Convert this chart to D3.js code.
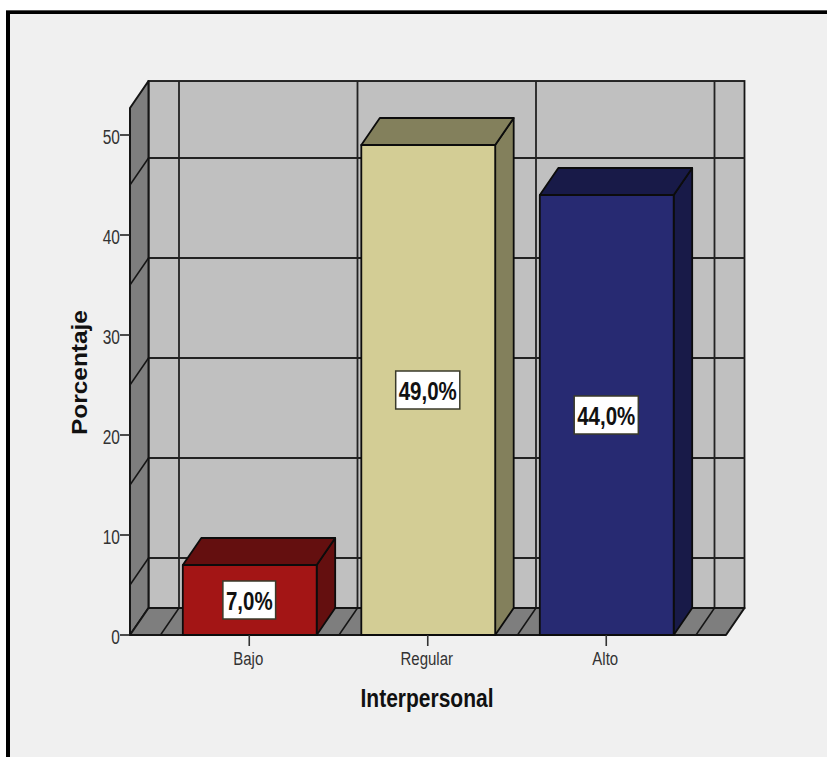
<!DOCTYPE html>
<html>
<head>
<meta charset="utf-8">
<script src="https://cdn.jsdelivr.net/npm/d3@7/dist/d3.min.js"></script>
<style>
  html, body { margin: 0; padding: 0; background: #ffffff; }
  svg { display: block; }
  text { font-family: "Liberation Sans", Arial, sans-serif; }
</style>
</head>
<body>
<svg id="chart" width="827" height="757"></svg>
<script>
// Chart values
const categories = ["Bajo", "Regular", "Alto"];
const percentages = [7.0, 49.0, 44.0];
const yTickValues = [0, 10, 20, 30, 40, 50];
const wallGridValues = [5, 15, 25, 35, 45];
const frontColors = ["#a31515", "#d3cd95", "#272a72"];
const topColors = ["#640f0f", "#83805c", "#181a48"];
const yTitle = "Porcentaje";
const xTitle = "Interpersonal";

const svg = d3.select("#chart");
const INK = "#151515";

// Extruded frame: front plane plus a constant shift to the back plane
const depthX = 18.5, depthY = 27;
const plotLeft = 130, plotRight = 726, plotBottom = 635, plotTop = 108;

const y = d3.scaleLinear().domain([0, 52.7]).range([plotBottom, plotTop]);
const x = d3.scaleBand().domain(categories)
  .range([160.5, 696]).paddingInner(0.25).paddingOuter(0.125);

const poly = pts => pts.map(p => p.join(",")).join(" ");

// Panel with its heavy top and left rules
svg.append("rect").attr("x", 8).attr("y", 12).attr("width", 830).attr("height", 760)
  .attr("fill", "#f0f0f0").attr("stroke", "#000").attr("stroke-width", 4);
svg.append("rect").attr("x", 6).attr("y", 10).attr("width", 821).attr("height", 1).attr("fill", "#555");

const plot = svg.append("g");

// Back wall
plot.append("rect")
  .attr("x", plotLeft + depthX).attr("y", plotTop - depthY)
  .attr("width", plotRight - plotLeft).attr("height", plotBottom - plotTop)
  .attr("fill", "#c0c0c0").attr("stroke", INK).attr("stroke-width", 1.8);

// Horizontal grid on the back wall
plot.selectAll("line.grid-h").data(wallGridValues).join("line")
  .attr("class", "grid-h")
  .attr("x1", plotLeft + depthX).attr("x2", plotRight + depthX)
  .attr("y1", d => y(d) - depthY).attr("y2", d => y(d) - depthY)
  .attr("stroke", "#222").attr("stroke-width", 1.8);

// Vertical separators between categories, on the back wall
const step = x.step();
const separators = d3.range(categories.length + 1).map(i => 160.5 + i * step);
plot.selectAll("line.grid-v").data(separators).join("line")
  .attr("class", "grid-v")
  .attr("x1", d => d + depthX).attr("x2", d => d + depthX)
  .attr("y1", plotTop - depthY).attr("y2", plotBottom - depthY)
  .attr("stroke", "#222").attr("stroke-width", 1.8);

// Left wall
plot.append("polygon")
  .attr("points", poly([[plotLeft, plotTop], [plotLeft + depthX, plotTop - depthY],
    [plotLeft + depthX, plotBottom - depthY], [plotLeft, plotBottom]]))
  .attr("fill", "#7e7e7e").attr("stroke", INK).attr("stroke-width", 2).attr("stroke-linejoin", "round");
plot.selectAll("line.wall").data(wallGridValues).join("line")
  .attr("class", "wall")
  .attr("x1", plotLeft).attr("x2", plotLeft + depthX)
  .attr("y1", d => y(d)).attr("y2", d => y(d) - depthY)
  .attr("stroke", INK).attr("stroke-width", 1.5);

// Floor
plot.append("polygon")
  .attr("points", poly([[plotLeft, plotBottom], [plotLeft + depthX, plotBottom - depthY],
    [plotRight + depthX, plotBottom - depthY], [plotRight, plotBottom]]))
  .attr("fill", "#7e7e7e").attr("stroke", INK).attr("stroke-width", 2).attr("stroke-linejoin", "round");
plot.selectAll("line.floor").data(separators).join("line")
  .attr("class", "floor")
  .attr("x1", d => d).attr("x2", d => d + depthX)
  .attr("y1", plotBottom).attr("y2", plotBottom - depthY)
  .attr("stroke", INK).attr("stroke-width", 1.5);

// Bars: side, top, then front face
const bars = plot.selectAll("g.bar").data(categories).join("g").attr("class", "bar");
const barW = x.bandwidth();
const barStyle = sel => sel.attr("stroke", "#0c0c0c").attr("stroke-width", 1.8).attr("stroke-linejoin", "round");

bars.append("polygon").call(barStyle)
  .attr("fill", (d, i) => topColors[i])
  .attr("points", (d, i) => {
    const x1 = x(d) + barW, t = y(percentages[i]);
    return poly([[x1, t], [x1 + depthX, t - depthY], [x1 + depthX, plotBottom - depthY], [x1, plotBottom]]);
  });
bars.append("polygon").call(barStyle)
  .attr("fill", (d, i) => topColors[i])
  .attr("points", (d, i) => {
    const x0 = x(d), t = y(percentages[i]);
    return poly([[x0, t], [x0 + depthX, t - depthY], [x0 + barW + depthX, t - depthY], [x0 + barW, t]]);
  });
bars.append("rect").call(barStyle)
  .attr("fill", (d, i) => frontColors[i])
  .attr("x", d => x(d)).attr("width", barW)
  .attr("y", (d, i) => y(percentages[i]))
  .attr("height", (d, i) => plotBottom - y(percentages[i]));

// Value labels centred on the front face
const formatPct = v => v.toFixed(1).replace(".", ",") + "%";
const labels = plot.selectAll("g.value").data(categories).join("g")
  .attr("class", "value")
  .attr("transform", (d, i) => `translate(${x(d) + barW / 2 - 0.5},${y(percentages[i] / 2)})`);
const boxes = labels.append("rect").attr("fill", "#fff").attr("stroke", "#3a3a2a").attr("stroke-width", 1.5);
labels.append("text")
  .attr("text-anchor", "middle")
  .attr("transform", "translate(0,9.5) scale(1,1.3)")
  .attr("font-size", 20.5).attr("font-weight", "bold").attr("fill", "#111")
  .text((d, i) => formatPct(percentages[i]))
  .each(function (d, i) {
    const w = this.getComputedTextLength() + 6;
    d3.select(boxes.nodes()[i]).attr("x", -w / 2).attr("width", w).attr("y", -19).attr("height", 38);
  });

// Value axis
const yAxis = svg.append("g").attr("transform", `translate(${plotLeft},-0.5)`)
  .call(d3.axisLeft(y).tickValues(yTickValues).tickSize(10).tickPadding(0).tickFormat(d3.format("d")));
yAxis.select(".domain").remove();
yAxis.selectAll(".tick line").attr("stroke", "#222").attr("stroke-width", 1.6);
yAxis.selectAll(".tick text")
  .attr("x", null).attr("dy", null)
  .attr("text-anchor", "end")
  .attr("transform", "translate(-10,9) scale(1,1.25)")
  .attr("font-family", '"Liberation Sans", Arial, sans-serif')
  .attr("font-size", 15.5).attr("fill", "#333");

// Category axis
const xAxis = svg.append("g").attr("transform", `translate(-0.5,${plotBottom})`)
  .call(d3.axisBottom(x).tickSize(11).tickPadding(0));
xAxis.select(".domain").remove();
xAxis.selectAll(".tick line").attr("stroke", "#333").attr("stroke-width", 1.6);
xAxis.selectAll(".tick text")
  .attr("y", null).attr("dy", null)
  .attr("text-anchor", "middle")
  .attr("transform", "translate(-1,30) scale(1,1.28)")
  .attr("font-family", '"Liberation Sans", Arial, sans-serif')
  .attr("font-size", 15).attr("fill", "#333");

// Axis titles
svg.append("text")
  .attr("text-anchor", "middle")
  .attr("transform", "translate(87,372.5) rotate(-90) scale(1.11,1)")
  .attr("font-size", 22).attr("font-weight", "bold").attr("fill", "#111")
  .text(yTitle);
svg.append("text")
  .attr("text-anchor", "middle")
  .attr("transform", "translate(427,706.5) scale(1,1.22)")
  .attr("font-size", 21).attr("font-weight", "bold").attr("fill", "#111")
  .text(xTitle);
</script>
</body>
</html>
